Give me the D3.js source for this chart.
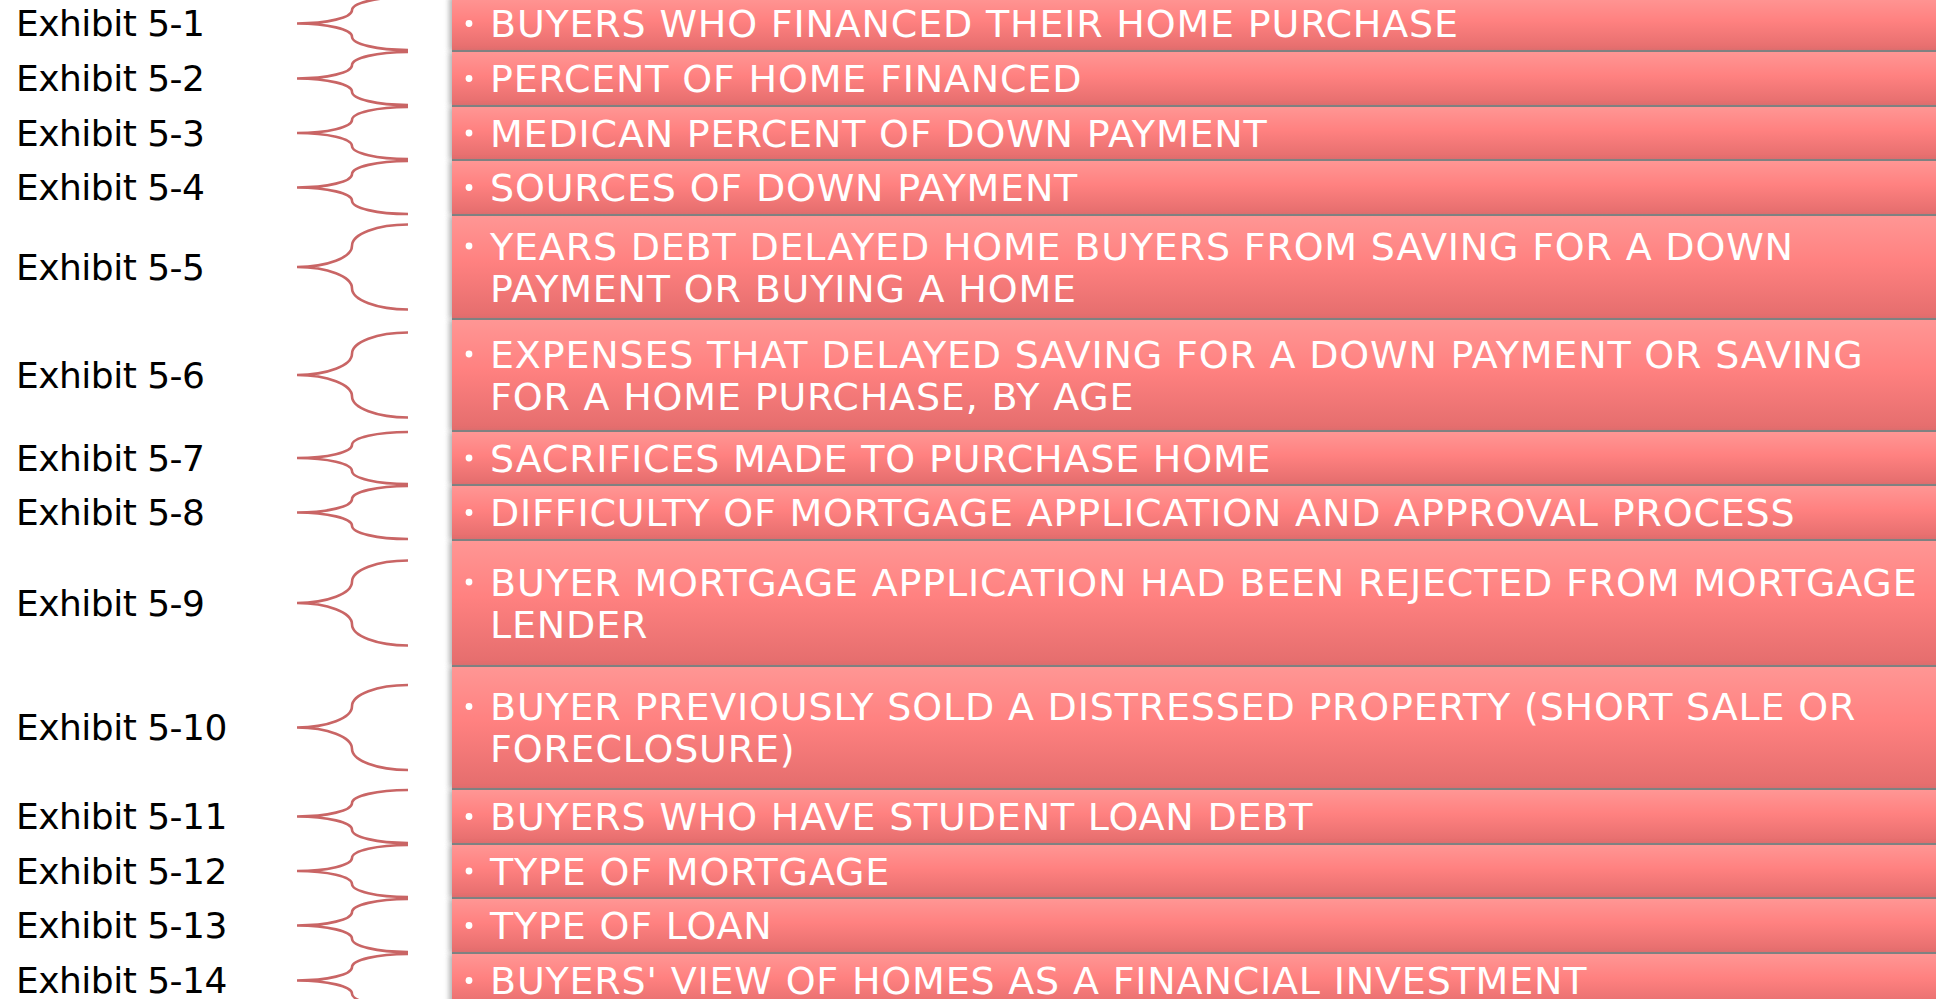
<!DOCTYPE html>
<html>
<head>
<meta charset="utf-8">
<script src="https://cdn.jsdelivr.net/npm/d3@7"></script>
<style>
  body { margin: 0; background: #fff; overflow: hidden; }
</style>
</head>
<body>
<div class="board"></div>
<script>
// exhibit numbers (left column)
var exhibits = ['Exhibit 5-1', 'Exhibit 5-2', 'Exhibit 5-3', 'Exhibit 5-4', 'Exhibit 5-5',
  'Exhibit 5-6', 'Exhibit 5-7', 'Exhibit 5-8', 'Exhibit 5-9', 'Exhibit 5-10',
  'Exhibit 5-11', 'Exhibit 5-12', 'Exhibit 5-13', 'Exhibit 5-14'];

// topic of each exhibit, one entry per text line
var topics = [
  ['BUYERS WHO FINANCED THEIR HOME PURCHASE'],
  ['PERCENT OF HOME FINANCED'],
  ['MEDICAN PERCENT OF DOWN PAYMENT'],
  ['SOURCES OF DOWN PAYMENT'],
  ['YEARS DEBT DELAYED HOME BUYERS FROM SAVING FOR A DOWN', 'PAYMENT OR BUYING A HOME'],
  ['EXPENSES THAT DELAYED SAVING FOR A DOWN PAYMENT OR SAVING', 'FOR A HOME PURCHASE,  BY AGE'],
  ['SACRIFICES MADE TO PURCHASE HOME'],
  ['DIFFICULTY OF MORTGAGE APPLICATION AND APPROVAL PROCESS'],
  ['BUYER MORTGAGE APPLICATION HAD BEEN REJECTED FROM MORTGAGE', 'LENDER'],
  ['BUYER PREVIOUSLY SOLD A DISTRESSED PROPERTY (SHORT SALE OR', 'FORECLOSURE)'],
  ['BUYERS WHO HAVE STUDENT LOAN DEBT'],
  ['TYPE OF MORTGAGE'],
  ['TYPE OF LOAN'],
  ["BUYERS' VIEW OF HOMES AS A FINANCIAL INVESTMENT"]
];

// layout: vertical room taken by each row (px)
var rowPitch = [55, 55, 54, 55, 104, 112, 54, 55, 126, 123, 55, 54, 55, 55];

var W = 1936, H = 999;
var startY = -3, gap = 2;
var boxX = 452, boxW = 1600;
var tipX = 297, midX = 352, endX = 408;
var braceMaxHalf = 42.5;
var lineGap = 42;
var fontFace = '"DejaVu Sans", sans-serif';

var svg = d3.select('.board').append('svg')
  .attr('width', W)
  .attr('height', H)
  .style('display', 'block');

var defs = svg.append('defs');

var grad = defs.append('linearGradient')
  .attr('id', 'boxFill')
  .attr('x1', 0).attr('y1', 0).attr('x2', 0).attr('y2', 1);
grad.append('stop').attr('offset', '0%').attr('stop-color', '#ff9694');
grad.append('stop').attr('offset', '45%').attr('stop-color', '#ff8180');
grad.append('stop').attr('offset', '100%').attr('stop-color', '#e46d6d');

var blur = defs.append('filter')
  .attr('id', 'soft')
  .attr('x', '-5%').attr('y', '-20%').attr('width', '110%').attr('height', '140%');
blur.append('feGaussianBlur').attr('stdDeviation', 2.5);

// row positions
var cum = d3.cumsum(rowPitch);
var total = cum[cum.length - 1];
var y = d3.scaleLinear().domain([0, total]).range([startY, startY + total]);

var rows = exhibits.map(function(ex, i) {
  var top = y(i ? cum[i - 1] : 0);
  var bottom = y(cum[i]) - gap;
  return {
    id: i,
    exhibit: ex,
    lines: topics[i],
    top: top,
    h: bottom - top,
    c: (top + bottom) / 2
  };
});

var row = svg.selectAll('g.row')
  .data(rows)
  .enter()
  .append('g')
  .attr('class', 'row');

// soft shadow on the left, crisp grey line below
row.append('rect')
  .attr('x', boxX - 3)
  .attr('y', function(d) { return d.top; })
  .attr('width', boxW)
  .attr('height', function(d) { return d.h + 1; })
  .attr('fill', '#7a7a7a')
  .attr('opacity', 0.55)
  .attr('filter', 'url(#soft)');

row.append('rect')
  .attr('x', boxX)
  .attr('y', function(d) { return d.top; })
  .attr('width', boxW)
  .attr('height', function(d) { return d.h + gap; })
  .attr('fill', '#808383');

row.append('rect')
  .attr('x', boxX)
  .attr('y', function(d) { return d.top; })
  .attr('width', boxW)
  .attr('height', function(d) { return d.h; })
  .attr('fill', 'url(#boxFill)');

// brace
var k = 0.5523;
var bracePath = function(d) {
  var hs = Math.min(d.h / 2, braceMaxHalf);
  var r = hs / 2;
  var c = d.c, t = c - hs, b = c + hs;
  var a1 = endX - midX, a2 = midX - tipX;
  var p = d3.path();
  p.moveTo(endX, t);
  p.bezierCurveTo(endX - k * a1, t, midX, t + r - k * r, midX, t + r);
  p.lineTo(midX, c - r);
  p.bezierCurveTo(midX, c - r + k * r, tipX + k * a2, c, tipX, c);
  p.bezierCurveTo(tipX + k * a2, c, midX, c + r - k * r, midX, c + r);
  p.lineTo(midX, b - r);
  p.bezierCurveTo(midX, b - r + k * r, endX - k * a1, b, endX, b);
  return p.toString();
};

row.append('path')
  .attr('d', bracePath)
  .attr('fill', 'none')
  .attr('stroke', '#c96565')
  .attr('stroke-width', 2.6);

// exhibit labels
var exFont = 36;
var exText = row.append('text')
  .attr('class', 'ex')
  .attr('x', 16)
  .attr('y', function(d) { return d.c + exFont * 0.36; })
  .attr('font-family', fontFace)
  .attr('font-size', exFont)
  .attr('fill', '#000')
  .text(function(d) { return d.exhibit; });

// bullets
var tFont = 38;
row.append('circle')
  .attr('cx', 469)
  .attr('cy', function(d) { return d.c - (d.lines.length - 1) * lineGap / 2; })
  .attr('r', 3.4)
  .attr('fill', '#fff');

// topic lines
var tText = row.selectAll('text.topic')
  .data(function(d) {
    return d.lines.map(function(l, j) {
      return { text: l, y: d.c + (j - (d.lines.length - 1) / 2) * lineGap };
    });
  })
  .enter()
  .append('text')
  .attr('class', 'topic')
  .attr('x', 490)
  .attr('y', function(d) { return d.y + tFont * 0.36; })
  .attr('font-family', fontFace)
  .attr('font-size', tFont)
  .attr('fill', '#fff')
  .text(function(d) { return d.text; });

// nudge letter spacing so the type runs as wide as the reference face
var fitSpacing = function(sel, target) {
  var node = sel.node();
  var w = node.getComputedTextLength();
  var n = node.textContent.length;
  return (target - w) / (n - 1);
};
exText.attr('letter-spacing', fitSpacing(exText, 189));
tText.attr('letter-spacing', fitSpacing(tText, 968));
</script>
</body>
</html>
